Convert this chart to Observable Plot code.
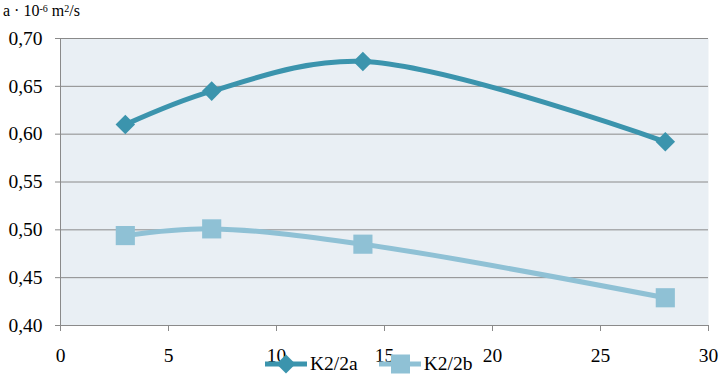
<!DOCTYPE html>
<html>
<head>
<meta charset="utf-8">
<script src="https://cdn.jsdelivr.net/npm/d3@7"></script>
<script src="https://cdn.jsdelivr.net/npm/@observablehq/plot@0.6"></script>
<style>
  html, body { margin: 0; padding: 0; background: #fff; }
  #wrap { position: relative; width: 722px; height: 377px; overflow: hidden; font-family: "Liberation Serif", "Times New Roman", serif; }
  #title { position: absolute; left: 3px; top: 2px; font-size: 16px; line-height: 17px; color: #000; white-space: nowrap; }
  #title sup { font-size: 10px; line-height: 0; vertical-align: 4px; }
  #legend { position: absolute; left: 264px; top: 352px; display: flex; align-items: center; font-size: 19.5px; line-height: 20px; white-space: nowrap; }
  #legend .item { display: flex; align-items: center; margin-right: 20px; }
  #legend svg { margin-right: 2px; }
  #chart { position: absolute; left: 0; top: 0; }
  #chart svg, #chart text { font-family: "Liberation Serif", "Times New Roman", serif; }
</style>
</head>
<body>
<div id="wrap">
  <div id="chart"></div>
  <div id="title">a · 10<sup>-6</sup> m<sup>2</sup>/s</div>
  <div id="legend"></div>
</div>
<script>
const days = [3, 7, 14, 28];
const seriesNames = ["K2/2a", "K2/2b"];
const k2a = [0.610, 0.645, 0.676, 0.592];
const k2b = [0.494, 0.501, 0.485, 0.429];
const xTicks = [0, 5, 10, 15, 20, 25, 30];
const yTicks = [0.40, 0.45, 0.50, 0.55, 0.60, 0.65, 0.70];

const colors = {"K2/2a": "#3b94ad", "K2/2b": "#8fc1d5"};
const symbols = {"K2/2a": "diamond2", "K2/2b": "square"};
const radii = {"K2/2a": 8.8, "K2/2b": 10.8};

const data = [];
days.forEach((d, i) => data.push({series: "K2/2a", x: d, y: k2a[i]}));
days.forEach((d, i) => data.push({series: "K2/2b", x: d, y: k2b[i]}));

const fmt = d => d.toFixed(2).replace(".", ",");
const serif = "'Liberation Serif', 'Times New Roman', serif";

const marks = [
  Plot.frame({fill: "#e9eff4", stroke: null}),
  Plot.gridY(yTicks, {stroke: "#8a8a8a", strokeOpacity: 1, strokeWidth: 1}),
  Plot.ruleX([0], {stroke: "#8a8a8a"}),
  Plot.ruleY([0.40], {stroke: "#8a8a8a"}),
  Plot.axisY(yTicks, {tickFormat: fmt, tickSize: 5, tickPadding: 13, label: null, stroke: "#8a8a8a", fontSize: 19.5, fill: "#000"}),
  Plot.axisX(xTicks, {tickSize: 6, tickPadding: 17, label: null, stroke: "#8a8a8a", fontSize: 19.5, fill: "#000"})
];
for (const s of seriesNames) {
  const sd = data.filter(d => d.series === s);
  marks.push(Plot.line(sd, {x: "x", y: "y", stroke: colors[s], strokeWidth: 5, curve: "catmull-rom"}));
  marks.push(Plot.dot(sd, {x: "x", y: "y", fill: colors[s], stroke: null, symbol: symbols[s], r: radii[s]}));
}

const chart = Plot.plot({
  width: 722,
  height: 377,
  marginTop: 38,
  marginBottom: 52,
  marginLeft: 60,
  marginRight: 14,
  x: {domain: [0, 30]},
  y: {domain: [0.40, 0.70]},
  style: {background: "transparent", fontFamily: serif, fontSize: "19px", color: "#000"},
  marks
});
document.getElementById("chart").appendChild(chart);

// legend
const legend = document.getElementById("legend");
for (const s of seriesNames) {
  const item = document.createElement("div");
  item.className = "item";
  const sym = s === "K2/2a"
    ? `<path d="M22,2.5 L31.5,12 L22,21.5 L12.5,12 Z" fill="${colors[s]}"/>`
    : `<rect x="13" y="2.5" width="19" height="19" fill="${colors[s]}"/>`;
  item.innerHTML = `<svg width="44" height="24"><line x1="1" y1="12" x2="43" y2="12" stroke="${colors[s]}" stroke-width="5"/>${sym}</svg><span>${s}</span>`;
  legend.appendChild(item);
}
</script>
</body>
</html>
